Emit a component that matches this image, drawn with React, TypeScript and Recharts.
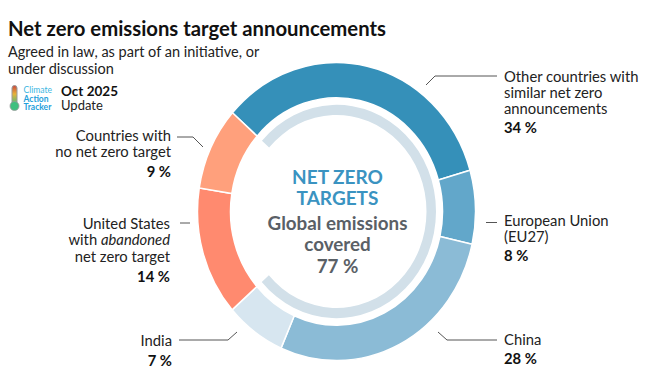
import React from 'react';
import { PieChart, Pie, Cell } from 'recharts';

const categories = [
  'Other countries with similar net zero announcements',
  'European Union (EU27)',
  'China',
  'India',
  'United States with abandoned net zero target',
  'Countries with no net zero target',
];
const shares = [34, 8, 28, 7, 14, 9];
const sliceColors = ['#3590b9', '#62a7ca', '#8bbbd6', '#d7e6f0', '#ff8a6f', '#ffa07c'];
const coverage = [77, 23];
const coverageLabel = '77 %';

const titleText = 'Net zero emissions target announcements';
const subtitleLines = ['Agreed in law, as part of an initiative, or', 'under discussion'];
const centerTop = ['NET ZERO', 'TARGETS'];
const centerBottom = ['Global emissions', 'covered'];

const rightLabels = [
  { lines: ['Other countries with', 'similar net zero', 'announcements'], value: '34 %' },
  { lines: ['European Union', '(EU27)'], value: '8 %' },
  { lines: ['China'], value: '28 %' },
];
const leftLabels = [
  { lines: ['Countries with', 'no net zero target'], value: '9 %' },
  { lines: ['United States', 'with |abandoned|', 'net zero target'], value: '14 %' },
  { lines: ['India'], value: '7 %' },
];

const pieData = categories.map((c, i) => ({ name: c, value: shares[i] }));
const coverageData = coverage.map((v, i) => ({ name: i === 0 ? 'covered' : 'rest', value: v }));

const FONT = 'Lato, "Open Sans", sans-serif';
const CX = 336.5;
const CY = 211.5;
const SY = 1.072;
const START = 138.5;

const rightPos = [
  { x: 504, y: 81.5, line: '426,85 435,76 497,76' },
  { x: 504, y: 226, line: '486,222.5 497,222.5' },
  { x: 504, y: 345, line: '438,332 447,340 497,340' },
];
const leftPos = [
  { x: 171, y: 140.5, line: '177,137 193,137 203,147' },
  { x: 170, y: 228.5, line: '180,223 190,223' },
  { x: 172, y: 346, line: '179,340 228,340 237,332' },
];

function renderLine(s: string) {
  const parts = s.split('|');
  return parts.map((p, i) => (
    <tspan key={i} fontStyle={i % 2 === 1 ? 'italic' : 'normal'}>{p}</tspan>
  ));
}

export default function App() {
  return (
    <div style={{ position: 'absolute', left: 0, top: 0, width: 650, height: 379, background: '#fff' }}>
      <div
        style={{
          position: 'absolute',
          left: 0,
          top: 0,
          transform: `scaleY(${SY})`,
          transformOrigin: `${CX}px ${CY}px`,
        }}
      >
        <PieChart width={650} height={379} margin={{ top: 0, right: 0, bottom: 0, left: 0 }}>
          <Pie
            data={pieData}
            dataKey="value"
            nameKey="name"
            cx={CX}
            cy={CY}
            innerRadius={106}
            outerRadius={139}
            startAngle={START}
            endAngle={START - 360}
            stroke="#ffffff"
            strokeWidth={1.5}
            isAnimationActive={false}
          >
            {pieData.map((d, i) => (
              <Cell key={d.name} fill={sliceColors[i]} />
            ))}
          </Pie>
          <Pie
            data={coverageData}
            dataKey="value"
            nameKey="name"
            cx={CX}
            cy={CY}
            innerRadius={90}
            outerRadius={99.5}
            startAngle={START}
            endAngle={START - 360}
            stroke="none"
            isAnimationActive={false}
          >
            {coverageData.map((d, i) => (
              <Cell key={d.name} fill={i === 0 ? '#d2e0e9' : 'transparent'} />
            ))}
          </Pie>
        </PieChart>
      </div>
      <svg width={650} height={379} style={{ position: 'absolute', left: 0, top: 0 }} fontFamily={FONT}>
        <text x={8} y={36} fontSize={20.3} fontWeight={700} fill="#111">{titleText}</text>
        {subtitleLines.map((l, i) => (
          <text key={l} x={8} y={56.5 + i * 17} fontSize={14.5} fill="#222">{l}</text>
        ))}
        {/* logo */}
        <defs>
          <linearGradient id="thermo" x1="0" y1="0" x2="0" y2="1">
            <stop offset="0%" stopColor="#c9463d" />
            <stop offset="45%" stopColor="#e8b33a" />
            <stop offset="100%" stopColor="#3fc07f" />
          </linearGradient>
        </defs>
        <rect x={12} y={85.5} width={5} height={19} rx={2.5} fill="url(#thermo)" stroke="#9a9a9a" strokeWidth={1} />
        <circle cx={14.5} cy={106} r={4.5} fill="#3fc07f" stroke="#9a9a9a" strokeWidth={0.8} />
        <text x={23.5} y={93} fontSize={8.5} fill="#3bb6e2">Climate</text>
        <text x={23.5} y={101.5} fontSize={8.5} fontWeight={700} fill="#1fa0db">Action</text>
        <text x={23.5} y={110} fontSize={8.5} fontWeight={700} fill="#1fa0db">Tracker</text>
        <text x={61} y={96} fontSize={13.5} fontWeight={700} fill="#111">Oct 2025</text>
        <text x={61} y={109.5} fontSize={13} fill="#222">Update</text>

        {/* center */}
        {centerTop.map((l, i) => (
          <text key={l} x={337.5} y={184 + i * 20.5} textAnchor="middle" fontSize={19} fontWeight={700} fill="#3a93c1">{l}</text>
        ))}
        {centerBottom.map((l, i) => (
          <text key={l} x={337.5} y={230 + i * 20.5} textAnchor="middle" fontSize={18.8} fontWeight={700} fill="#5a6066">{l}</text>
        ))}
        <text x={337.5} y={273} textAnchor="middle" fontSize={18.8} fontWeight={700} fill="#5a6066">{coverageLabel}</text>

        {/* right labels */}
        {rightLabels.map((lab, k) => (
          <g key={k}>
            <polyline points={rightPos[k].line} fill="none" stroke="#555" strokeWidth={1} />
            {lab.lines.map((l, i) => (
              <text key={i} x={rightPos[k].x} y={rightPos[k].y + i * 16.2} fontSize={14.8} fill="#222">{l}</text>
            ))}
            <text x={rightPos[k].x} y={rightPos[k].y + (lab.lines.length - 1) * 16.2 + 19} fontSize={14.8} fontWeight={700} fill="#111">{lab.value}</text>
          </g>
        ))}
        {leftLabels.map((lab, k) => (
          <g key={k}>
            <polyline points={leftPos[k].line} fill="none" stroke="#555" strokeWidth={1} />
            {lab.lines.map((l, i) => (
              <text key={i} x={leftPos[k].x} y={leftPos[k].y + i * 16.8} textAnchor="end" fontSize={14.8} fill="#222">{renderLine(l)}</text>
            ))}
            <text x={leftPos[k].x} y={leftPos[k].y + (lab.lines.length - 1) * 16.8 + 20} textAnchor="end" fontSize={14.8} fontWeight={700} fill="#111">{lab.value}</text>
          </g>
        ))}
      </svg>
    </div>
  );
}
